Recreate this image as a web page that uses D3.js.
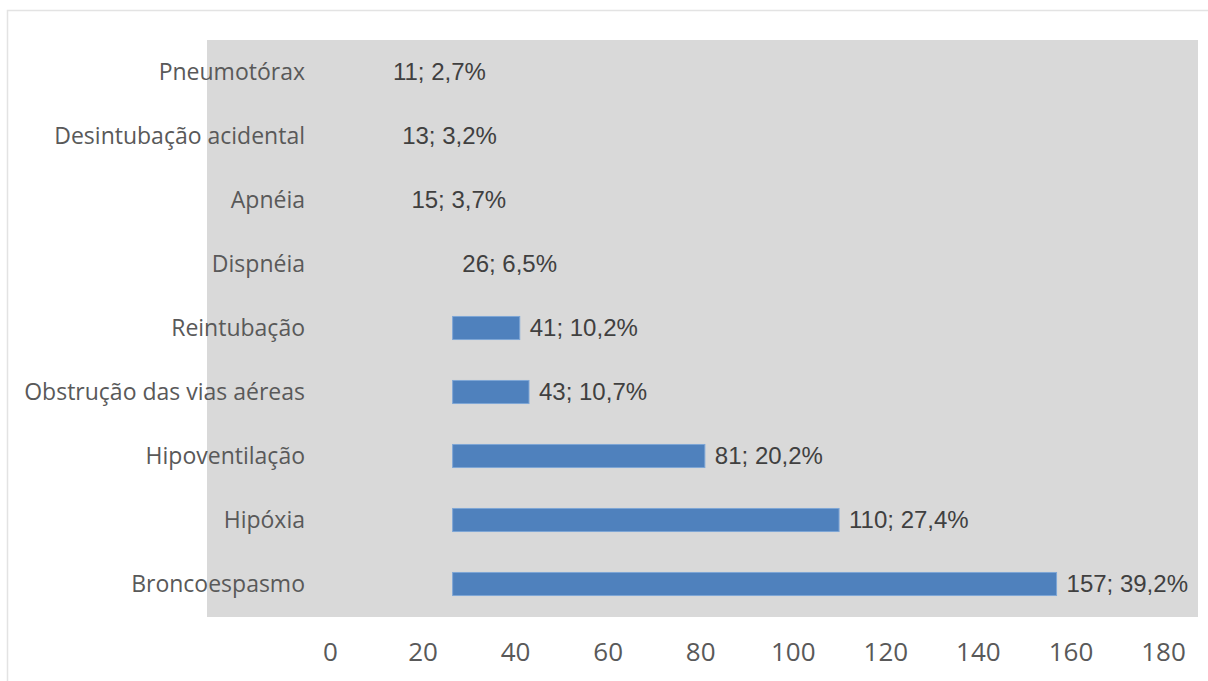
<!DOCTYPE html>
<html>
<head>
<meta charset="utf-8">
<script src="https://cdn.jsdelivr.net/npm/d3@7"></script>
<style>
  html, body { margin: 0; padding: 0; background: #fff; }
  svg { display: block; }
</style>
</head>
<body>
<div id="chart"></div>
<script>
// Dados do gráfico (de cima para baixo)
const categories = [
  "Pneumotórax",
  "Desintubação acidental",
  "Apnéia",
  "Dispnéia",
  "Reintubação",
  "Obstrução das vias aéreas",
  "Hipoventilação",
  "Hipóxia",
  "Broncoespasmo"
];
const counts = [11, 13, 15, 26, 41, 43, 81, 110, 157];
const percents = ["2,7%", "3,2%", "3,7%", "6,5%", "10,2%", "10,7%", "20,2%", "27,4%", "39,2%"];
const tickValues = [0, 20, 40, 60, 80, 100, 120, 140, 160, 180];
// as barras do original começam por volta de 26,5 (não em zero)
const barBase = 26.5;

const width = 1208;
const height = 681;

const svg = d3.select("#chart")
  .append("svg")
  .attr("width", width)
  .attr("height", height);

// moldura externa clara
svg.append("rect")
  .attr("x", 7.5)
  .attr("y", 10.5)
  .attr("width", width + 10)
  .attr("height", height + 10)
  .attr("fill", "none")
  .attr("stroke", "#e3e3e3")
  .attr("stroke-width", 1.5);

// fundo cinza
svg.append("rect")
  .attr("x", 207)
  .attr("y", 40)
  .attr("width", 991)
  .attr("height", 577)
  .attr("fill", "#d9d9d9");

// Escalas
const x = d3.scaleLinear()
  .domain([0, 180])
  .range([330, 1163]);

const y = d3.scaleBand()
  .domain(categories)
  .range([40, 616])
  .paddingInner(0.64)
  .paddingOuter(0.32);

const data = categories.map((c, i) => ({ category: c, value: counts[i], pct: percents[i] }));

// Eixo X (só os rótulos)
const xAxis = svg.append("g")
  .attr("transform", "translate(0,643)")
  .call(d3.axisBottom(x).tickValues(tickValues).tickSize(0).tickPadding(0));
xAxis.select(".domain").remove();
xAxis.selectAll("text")
  .attr("dy", "0.71em")
  .style("font-family", "'Open Sans', sans-serif")
  .style("font-size", "26px")
  .style("fill", "#595959");

// Eixo Y (rótulos das categorias)
const yAxis = svg.append("g")
  .attr("transform", "translate(305,0)")
  .call(d3.axisLeft(y).tickSize(0).tickPadding(0));
yAxis.select(".domain").remove();
yAxis.selectAll("text")
  .attr("dy", "0.33em")
  .style("font-family", "'Open Sans', sans-serif")
  .style("font-size", "23px")
  .style("fill", "#595959");

// Barras
svg.selectAll(".bar")
  .data(data.filter(d => d.value > barBase))
  .enter().append("rect")
  .attr("class", "bar")
  .attr("x", x(barBase))
  .attr("y", d => y(d.category))
  .attr("width", d => x(d.value) - x(barBase))
  .attr("height", y.bandwidth())
  .attr("fill", "#4f81bd")
  .attr("stroke", "#7ea6d6")
  .attr("stroke-width", 1);

// Rótulos de valores
svg.selectAll(".value-label")
  .data(data)
  .enter().append("text")
  .attr("class", "value-label")
  .attr("x", d => x(d.value) + (d.value > barBase ? 10 : 12))
  .attr("y", d => y(d.category) + y.bandwidth() / 2)
  .attr("dy", "0.32em")
  .style("font-family", "'Liberation Sans', Arial, sans-serif")
  .style("font-size", "24px")
  .style("fill", "#404040")
  .text(d => `${d.value}; ${d.pct}`);
</script>
</body>
</html>
